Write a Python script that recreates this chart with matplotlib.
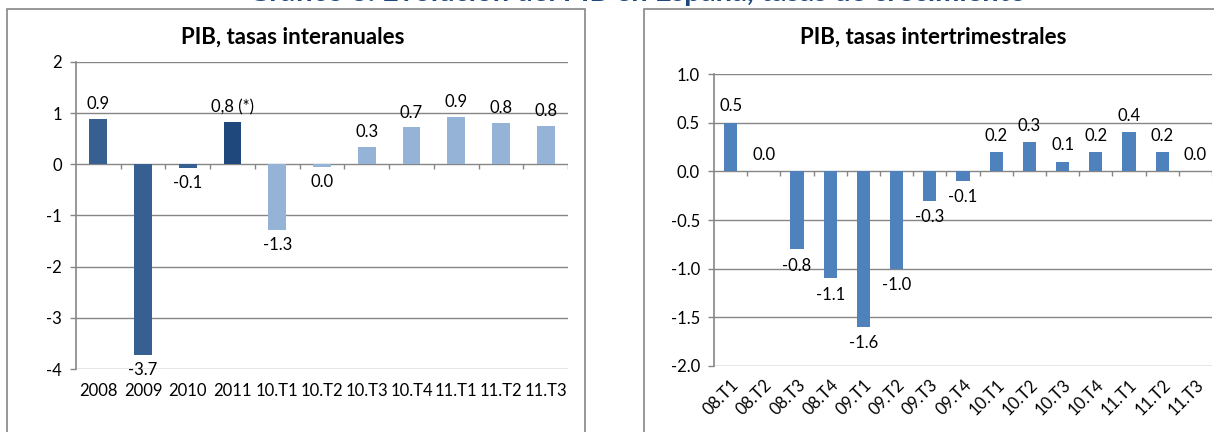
import matplotlib
matplotlib.use("Agg")
import matplotlib.pyplot as plt
from matplotlib.patches import Rectangle

# Left chart: PIB, tasas interanuales
annual_cats = ['2008', '2009', '2010', '2011', '10.T1', '10.T2', '10.T3',
               '10.T4', '11.T1', '11.T2', '11.T3']
annual_vals = [0.88, -3.72, -0.08, 0.82, -1.29, -0.045, 0.34, 0.72, 0.93, 0.81, 0.75]
annual_labels = ['0.9', '-3.7', '-0.1', '0,8 (*)', '-1.3', '0.0', '0.3',
                 '0.7', '0.9', '0.8', '0.8']
annual_colors = ['#376092', '#376092', '#376092', '#1F497D'] + ['#95B3D7'] * 7

# Right chart: PIB, tasas intertrimestrales
quarter_cats = ['08.T1', '08.T2', '08.T3', '08.T4', '09.T1', '09.T2', '09.T3',
                '09.T4', '10.T1', '10.T2', '10.T3', '10.T4', '11.T1', '11.T2', '11.T3']
quarter_vals = [0.5, 0.0, -0.8, -1.1, -1.6, -1.0, -0.3, -0.1, 0.2, 0.3, 0.1, 0.2, 0.4, 0.2, 0.0]
quarter_labels = ['0.5', '0.0', '-0.8', '-1.1', '-1.6', '-1.0', '-0.3', '-0.1',
                  '0.2', '0.3', '0.1', '0.2', '0.4', '0.2', '0.0']

plt.rcParams['font.family'] = ['Lato', 'DejaVu Sans']
GRID = '#868686'
FS = 12

fig = plt.figure(figsize=(12.14, 4.32), dpi=100)
W, H = 1214, 432


def px(x0, y_top, x1, y_bot):
    return [x0 / W, 1 - y_bot / H, (x1 - x0) / W, (y_bot - y_top) / H]


# chart frames
for x0, x1 in [(7, 585), (644, 1230)]:
    fig.patches.append(Rectangle((x0 / W, -0.1), (x1 - x0) / W, 1.1 - 9 / H,
                                 transform=fig.transFigure, fill=False,
                                 edgecolor=GRID, linewidth=1.2))

# main heading, mostly cut off by the top edge as in the source
fig.text(637 / W, 1 - 0.5 / H, 'Gráfico 3. Evolución del PIB en España, tasas de crecimiento',
         ha='center', va='baseline', color='#1F497D', fontweight='bold', fontsize=21)

# chart titles
fig.text(293 / W, 1 - 37 / H, 'PIB, tasas interanuales', ha='center', va='center',
         fontsize=16, fontweight='bold')
fig.text(933 / W, 1 - 37 / H, 'PIB, tasas intertrimestrales', ha='center', va='center',
         fontsize=16, fontweight='bold')


def style(ax, n, ylo, yhi, step, fmt, tick_len):
    ax.set_xlim(-0.5, n - 0.5)
    ax.set_ylim(ylo, yhi)
    ticks = [ylo + i * step for i in range(int(round((yhi - ylo) / step)) + 1)]
    ax.set_yticks(ticks)
    ax.set_yticklabels([fmt.format(t) for t in ticks], fontsize=FS)
    ax.yaxis.grid(True, color=GRID, linewidth=1)
    ax.set_axisbelow(True)
    for s in ['top', 'right', 'bottom']:
        ax.spines[s].set_visible(False)
    ax.spines['left'].set_color(GRID)
    ax.spines['left'].set_linewidth(1.2)
    ax.tick_params(axis='y', length=4, color=GRID, width=1, pad=6)
    ax.tick_params(axis='x', length=0)
    # small category separators on the zero line
    ax.vlines([i + 0.5 for i in range(n)], 0, -tick_len, color=GRID, linewidth=1)


# left
ax1 = fig.add_axes(px(76, 62, 568, 369))
b1 = ax1.bar(range(len(annual_vals)), annual_vals, width=0.4, color=annual_colors)
ax1.bar_label(b1, labels=annual_labels, padding=5, fontsize=FS)
style(ax1, len(annual_vals), -4, 2, 1, '{:.0f}', 0.1)
ax1.set_xticks(range(len(annual_cats)))
ax1.set_xticklabels(annual_cats, fontsize=FS)
ax1.tick_params(axis='x', pad=10)

# right
ax2 = fig.add_axes(px(714, 74, 1212, 366))
b2 = ax2.bar(range(len(quarter_vals)), quarter_vals, width=0.4, color='#4F81BD')
ax2.bar_label(b2, labels=quarter_labels, padding=6, fontsize=FS)
style(ax2, len(quarter_vals), -2, 1, 0.5, '{:.1f}', 0.05)
ax2.set_xticks(range(len(quarter_cats)))
ax2.set_xticklabels(quarter_cats, fontsize=FS, rotation=45, ha='right',
                    va='top', rotation_mode='anchor')
ax2.tick_params(axis='x', pad=8)

fig.savefig('out.png', dpi=100)
